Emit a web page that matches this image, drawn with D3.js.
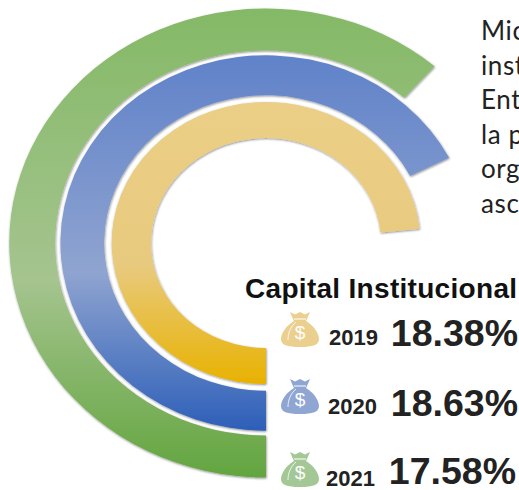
<!DOCTYPE html>
<html><head><meta charset="utf-8">
<script src="https://cdn.jsdelivr.net/npm/d3@7/dist/d3.min.js"></script>
<style>html,body{margin:0;padding:0;background:#fff;overflow:hidden}svg{display:block}</style>
</head><body><svg id="c" width="519" height="490"></svg>
<script>
const years = ["2019","2020","2021"];
const capital = ["18.38%","18.63%","17.58%"];
const ringShare = [73.4, 67.5, 61.4];
const bodyLines = ["Mic","inst","Ent","la p","org","asc"];
const title = "Capital Institucional";
const topColors = ["#ebcf86","#6082c9","#84b966"];
const midColors = ["#e8ca7e","#8fa4d0","#a5c48f"];
const endColors = ["#e8b200","#2d5fb8","#63a53f"];
const iconColors = ["#ebcf8f","#8fa6d3","#a3c795"];

const W=519,H=490,cx=266,cy=243,xStretch=1.095;
const ringWidth=[36,40,42];
const iconRow=[330,397,470], yearBase=[345,414,486], pctBase=[346,416,484], pctEnd=[518,518,516], yearEnd=[378,377,375];
const svg=d3.select("#c");
const defs=svg.append("defs");
const f=defs.append("filter").attr("id","sh").attr("x","-5%").attr("y","-5%").attr("width","110%").attr("height","110%");
f.append("feDropShadow").attr("dx",0.5).attr("dy",1).attr("stdDeviation",1.2).attr("flood-color","#000").attr("flood-opacity",0.45);

const angle=d3.scaleLinear().domain([0,100]).range([0,2*Math.PI]);
const outer=d3.scalePoint().domain(years).range([141,234.5]);
const arc=d3.arc();
const g=svg.append("g").attr("transform",`translate(${cx},${cy}) scale(${xStretch},1)`);

years.forEach((y,i)=>{
  const id="grad"+y;
  const r1=outer(y), r0=r1-ringWidth[i];
  const gr=defs.append("linearGradient").attr("id",id).attr("gradientUnits","userSpaceOnUse")
    .attr("x1",0).attr("x2",0).attr("y1",-r1).attr("y2",r1);
  gr.append("stop").attr("offset","0%").attr("stop-color",topColors[i]);
  gr.append("stop").attr("offset","58%").attr("stop-color",midColors[i]);
  gr.append("stop").attr("offset","100%").attr("stop-color",endColors[i]);
  g.append("path")
    .attr("d",arc({innerRadius:r0,outerRadius:r1,startAngle:Math.PI,endAngle:Math.PI+angle(ringShare[i])}))
    .attr("fill",`url(#${id})`).attr("filter","url(#sh)");
});

const bag="M-7-11 L-10-18 L-5-15.5 L0-18 L5-15.5 L10-18 L7-11 L6-9 C13-5 19 3 19 9 C19 15 13 17 0 17 C-13 17-19 15-19 9 C-19 3-13-5-6-9 Z";
years.forEach((y,i)=>{
  const it=svg.append("g").attr("transform",`translate(300,${iconRow[i]})`);
  it.append("path").attr("d",bag).attr("fill",iconColors[i]);
  it.append("path").attr("d","M-6-11 H6").attr("stroke","#fff").attr("stroke-width",1).attr("fill","none");
  it.append("path").attr("d","M-4-8 C-10-3 -12 4 -12 10").attr("stroke","#fff").attr("stroke-width",0.8).attr("fill","none");
  it.append("text").attr("y",9).attr("text-anchor","middle").attr("font-family","Liberation Sans").attr("font-size",19).attr("fill","#fff").text("$");
  svg.append("text").attr("x",yearEnd[i]).attr("y",yearBase[i]).attr("text-anchor","end")
    .attr("font-family","Liberation Sans").attr("font-weight",700).attr("font-size",22).attr("fill","#222").text(y);
  svg.append("text").attr("x",pctEnd[i]).attr("y",pctBase[i]).attr("text-anchor","end")
    .attr("font-family","Liberation Sans").attr("font-weight",700).attr("font-size",37.5).attr("fill","#222").text(capital[i]);
});
svg.append("text").attr("x",245).attr("y",298).attr("font-family","Liberation Sans").attr("font-weight",700).attr("font-size",28).attr("letter-spacing",0.3).attr("fill","#111").text(title);
const lineY=d3.scalePoint().domain(bodyLines).range([40,213]);
svg.selectAll("text.b").data(bodyLines).join("text").attr("class","b").attr("x",481).attr("y",d=>lineY(d))
  .attr("font-family","Lato").attr("font-weight",400).attr("font-size",26).attr("letter-spacing",0.6).attr("fill","#222").text(d=>d);
</script></body></html>
